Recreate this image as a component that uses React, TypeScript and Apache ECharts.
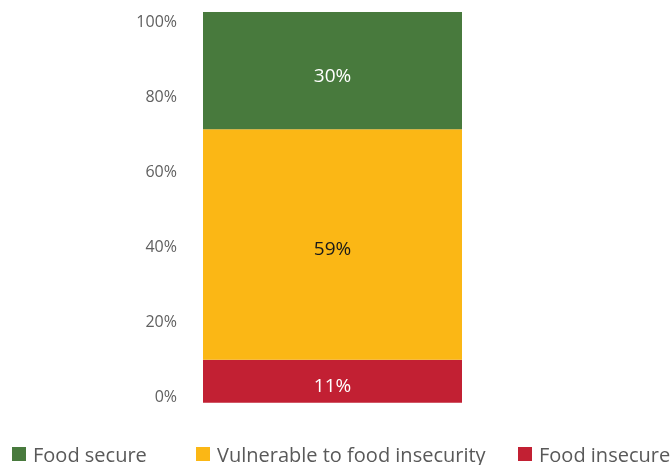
import React, { useEffect, useRef } from "react";
import * as echarts from "echarts";

const categories = [""];
const foodInsecure = [11];
const vulnerable = [59];
const foodSecure = [30];
const yTicks = [0, 20, 40, 60, 80, 100];

const FONT = "'Open Sans', sans-serif";

export default function App() {
  const ref = useRef<HTMLDivElement>(null);
  useEffect(() => {
    if (!ref.current) return;
    const chart = echarts.init(ref.current, undefined, { renderer: "svg" });
    const legendBase = {
      top: 444,
      padding: 0,
      itemWidth: 14,
      itemHeight: 14,
      icon: "rect",
      textStyle: { fontSize: 20, lineHeight: 19, color: "#595959", fontFamily: FONT, padding: [0, 0, 0, 2] },
    };
    chart.setOption({
      animation: false,
      textStyle: { fontFamily: FONT },
      grid: [
        { left: 203, width: 259, top: 12, height: 390.7 },
        { left: 203, width: 259, top: 21, height: 374.7 },
      ],
      xAxis: [
        { type: "category", data: categories, gridIndex: 0, show: false },
        { type: "value", gridIndex: 1, min: 0, max: 1, show: false },
      ],
      yAxis: [
        { type: "value", gridIndex: 0, min: 0, max: 100, show: false },
        {
          type: "value",
          gridIndex: 1,
          min: yTicks[0],
          max: yTicks[yTicks.length - 1],
          interval: 20,
          axisLine: { show: false },
          axisTick: { show: false },
          splitLine: { show: false },
          axisLabel: {
            margin: 26,
            fontSize: 16,
            color: "#606060",
            fontFamily: FONT,
            formatter: "{value}%",
          },
        },
      ],
      legend: [
        { ...legendBase, left: 12, data: ["Food secure"] },
        { ...legendBase, left: 196, data: ["Vulnerable to food insecurity"] },
        { ...legendBase, left: 518, data: ["Food insecure"] },
      ],
      series: [
        {
          name: "Food insecure",
          type: "bar",
          stack: "total",
          data: foodInsecure,
          barWidth: "100%",
          itemStyle: { color: "#C22033" },
          label: { show: true, position: "inside", formatter: "{c}%", color: "#ffffff", fontSize: 19, fontFamily: FONT, offset: [0, 4] },
        },
        {
          name: "Vulnerable to food insecurity",
          type: "bar",
          stack: "total",
          data: vulnerable,
          barWidth: "100%",
          itemStyle: { color: "#FBB715" },
          label: { show: true, position: "inside", formatter: "{c}%", color: "#1a1a1a", fontSize: 19, fontFamily: FONT, offset: [0, 4] },
        },
        {
          name: "Food secure",
          type: "bar",
          stack: "total",
          data: foodSecure,
          barWidth: "100%",
          itemStyle: { color: "#487A3D" },
          label: { show: true, position: "inside", formatter: "{c}%", color: "#ffffff", fontSize: 19, fontFamily: FONT, offset: [0, 4] },
        },
      ],
    });
    return () => chart.dispose();
  }, []);
  return <div ref={ref} style={{ width: 671, height: 465, position: "fixed", left: 0, top: 0 }} />;
}
